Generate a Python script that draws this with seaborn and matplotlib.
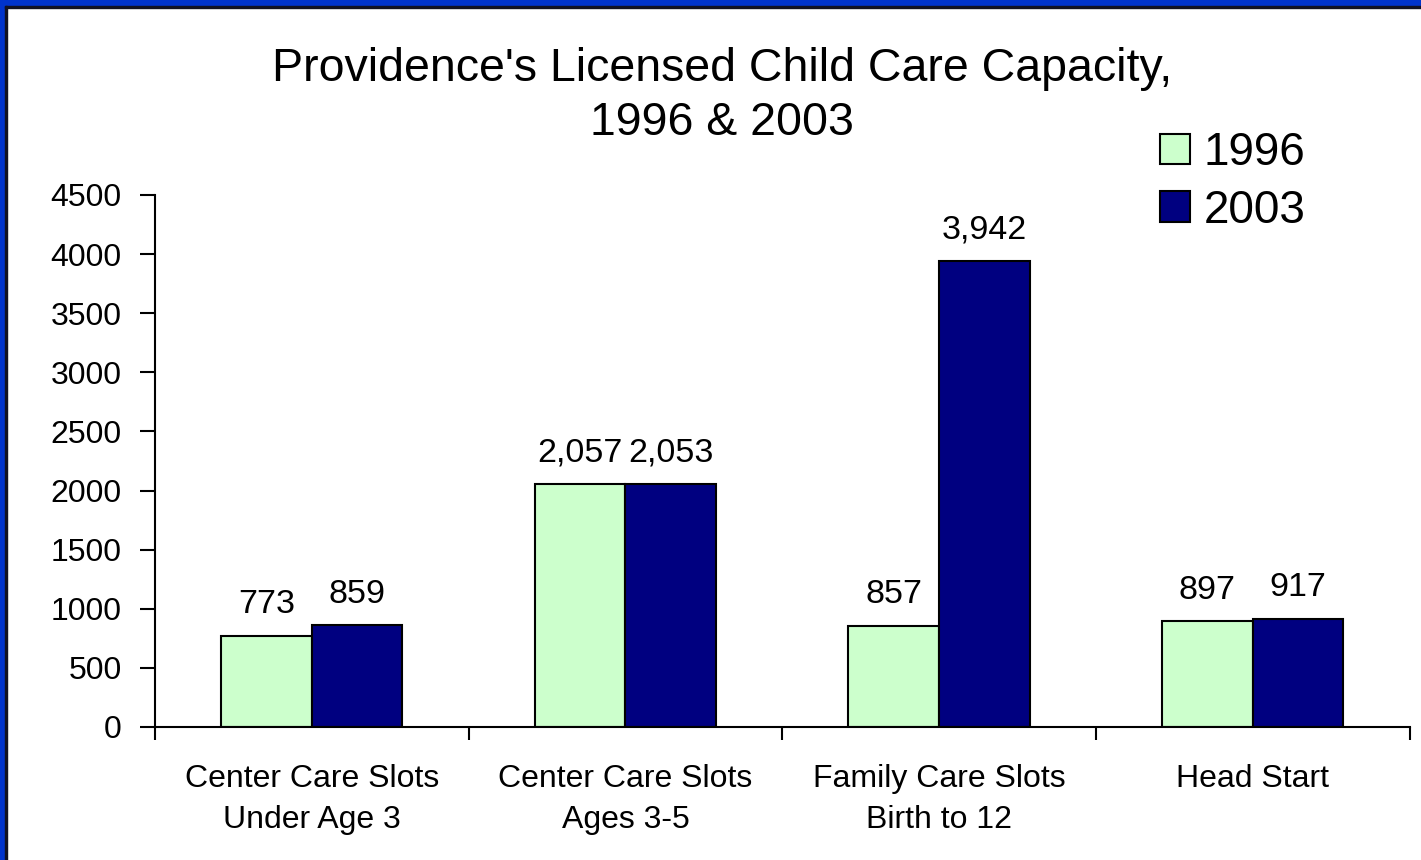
import pandas as pd
import seaborn as sns
import matplotlib.pyplot as plt
from matplotlib.patches import Rectangle

categories = ['Center Care Slots\nUnder Age 3', 'Center Care Slots\nAges 3-5',
              'Family Care Slots\nBirth to 12', 'Head Start']
years = ['1996', '2003']
values_1996 = [773, 2057, 857, 897]
values_2003 = [859, 2053, 3942, 917]

df = pd.DataFrame({
    'Category': categories * 2,
    'Year': [years[0]] * 4 + [years[1]] * 4,
    'Slots': values_1996 + values_2003,
})

sns.set_style('white')
plt.rcParams['font.family'] = ['Liberation Sans', 'DejaVu Sans']
plt.rcParams['text.color'] = 'black'
plt.rcParams['xtick.color'] = 'black'
plt.rcParams['ytick.color'] = 'black'

fig = plt.figure(figsize=(14.21, 8.6), dpi=100)
ax = fig.add_axes([0.109, 0.1547, 0.883, 0.6186])

sns.barplot(data=df, x='Category', y='Slots', hue='Year', order=categories,
            hue_order=years, palette=['#CCFFCC', '#000080'], width=0.578,
            edgecolor='black', linewidth=1.5, saturation=1, ax=ax)

for c in ax.containers:
    ax.bar_label(c, labels=[f'{v:,.0f}' for v in c.datavalues],
                 padding=11, fontsize=24.5)

ax.set_ylim(0, 4500)
ax.set_xlim(-0.5, 3.5)
ax.set_yticks(range(0, 4501, 500))
ax.set_xlabel('')
ax.set_ylabel('')
ax.set_xticks([0, 1, 2, 3])
ax.set_xticks([-0.5, 0.5, 1.5, 2.5, 3.5], minor=True)
ax.tick_params(axis='x', which='both', bottom=True)
ax.tick_params(axis='y', which='both', left=True)
ax.tick_params(axis='x', which='major', length=0, labelsize=23, pad=27)
ax.tick_params(axis='x', which='minor', length=9, width=1.5, direction='out')
ax.tick_params(axis='y', length=11, width=1.5, direction='out', labelsize=23, pad=13)
for lbl in ax.get_xticklabels():
    lbl.set_linespacing(1.45)
for s in ['top', 'right']:
    ax.spines[s].set_visible(False)
for s in ['left', 'bottom']:
    ax.spines[s].set_color('black')
    ax.spines[s].set_linewidth(1.5)

ax.get_legend().remove()
handles, labels = ax.get_legend_handles_labels()
fig.legend(handles, labels, loc='upper left', bbox_to_anchor=(0.8035, 0.869),
           frameon=False, fontsize=33, handlelength=0.65, handleheight=0.65,
           handletextpad=0.3, labelspacing=0.3, borderaxespad=0)

fig.text(0.508, 0.945, "Providence's Licensed Child Care Capacity,\n1996 & 2003",
         ha='center', va='top', fontsize=33.5, linespacing=1.28)

# blue frame on top and left edges
fig.patches.append(Rectangle((0, 0.993), 1, 0.007, transform=fig.transFigure,
                             color='#0033CC', zorder=10))
fig.patches.append(Rectangle((0, 0), 0.0035, 1, transform=fig.transFigure,
                             color='#0033CC', zorder=10))
fig.patches.append(Rectangle((0.0035, 0), 0.0015, 0.993, transform=fig.transFigure,
                             color='#111122', zorder=10))
fig.patches.append(Rectangle((0.0035, 0.991), 0.9965, 0.002, transform=fig.transFigure,
                             color='#111122', zorder=10))

fig.savefig('out.png', dpi=100)
